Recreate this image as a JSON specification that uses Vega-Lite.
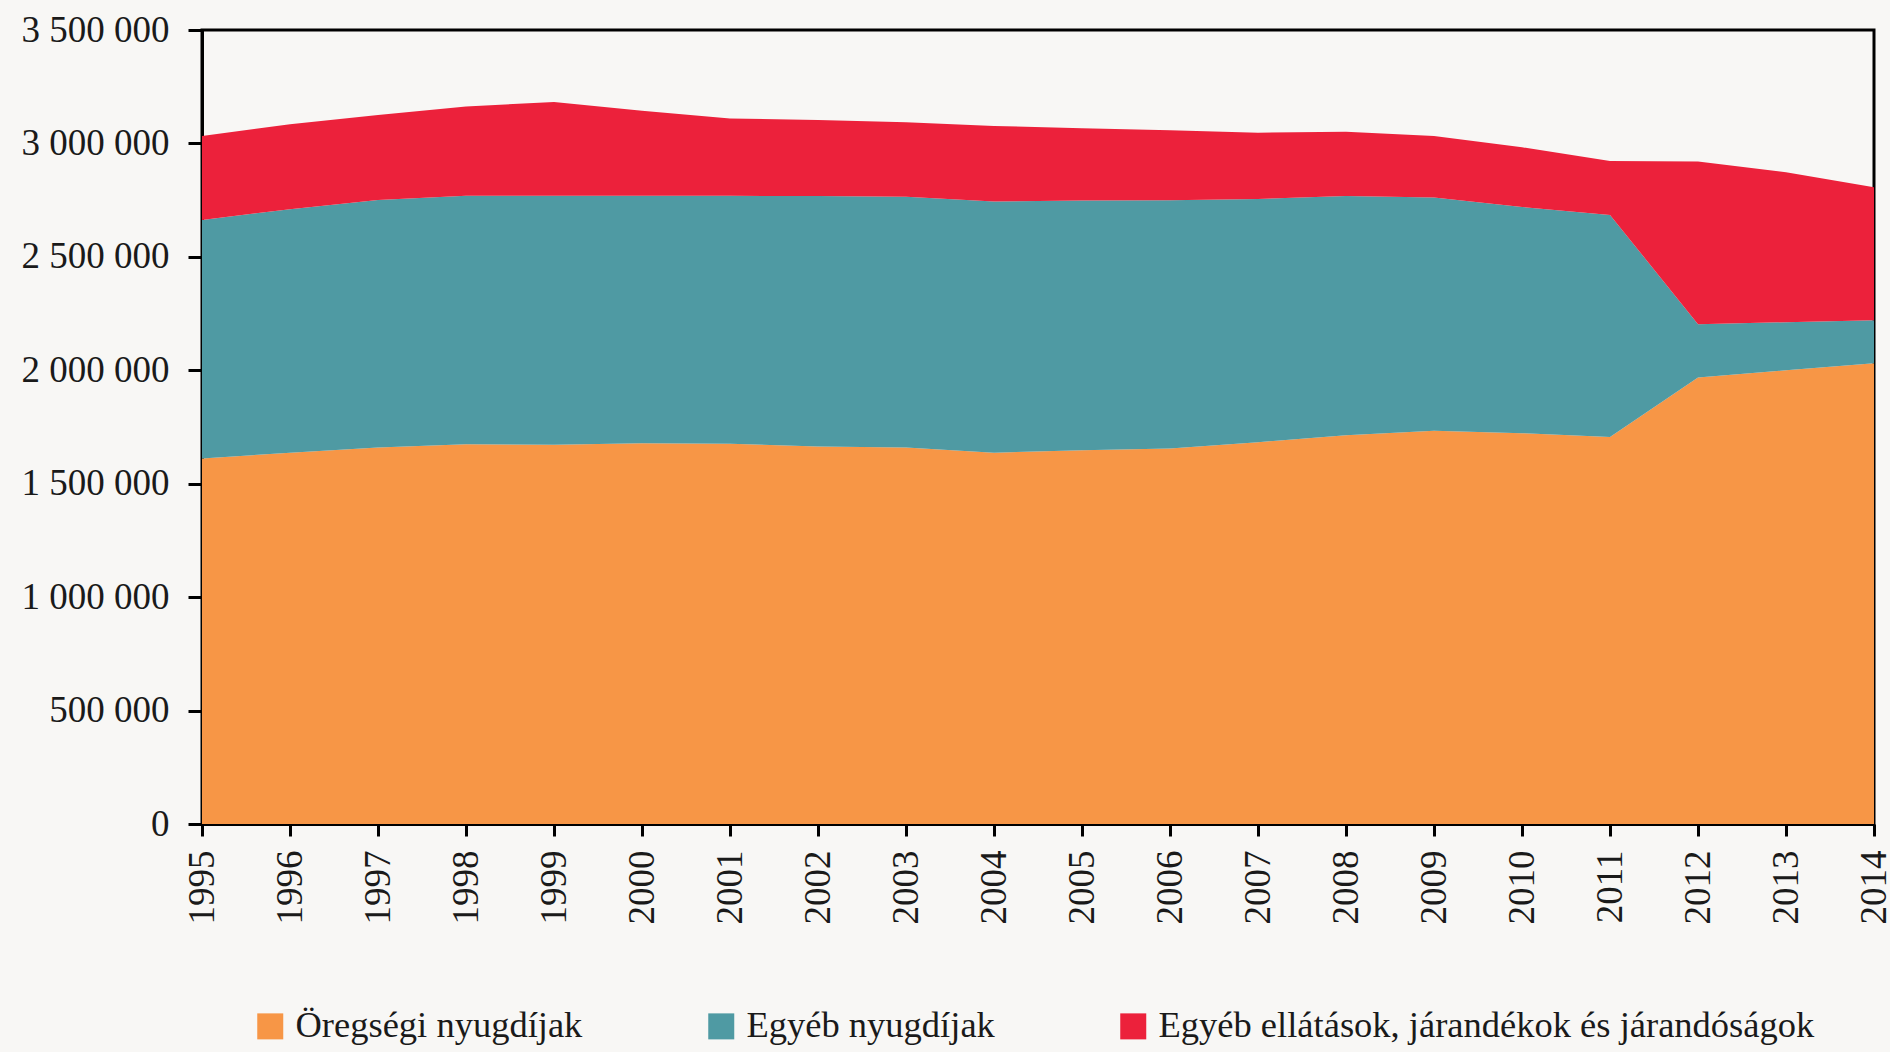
{
  "$schema": "https://vega.github.io/schema/vega-lite/v6.json",
  "width": 1672,
  "height": 794,
  "autosize": {"type": "none"},
  "padding": {"left": 202, "top": 30, "right": 16, "bottom": 228},
  "background": "#f8f7f5",
  "config": {
    "locale": {"number": {"decimal": ",", "thousands": " ", "grouping": [3], "currency": ["", " Ft"]}},
    "view": {"stroke": "#000000", "strokeWidth": 3, "fill": "#f8f7f5"},
    "axis": {
      "labelFont": "Liberation Serif",
      "labelFontSize": 37,
      "labelColor": "#1a1a1a",
      "domainColor": "#000000",
      "domainWidth": 3,
      "tickColor": "#000000",
      "tickWidth": 3,
      "grid": false,
      "title": null,
      "zindex": 1
    },
    "legend": {
      "labelFont": "Liberation Serif",
      "labelFontSize": 36.5,
      "labelColor": "#1a1a1a"
    }
  },
  "data": {
    "values": [
      {"year": 1995, "series": "Öregségi nyugdíjak", "value": 1611000},
      {"year": 1996, "series": "Öregségi nyugdíjak", "value": 1637000},
      {"year": 1997, "series": "Öregségi nyugdíjak", "value": 1660000},
      {"year": 1998, "series": "Öregségi nyugdíjak", "value": 1674000},
      {"year": 1999, "series": "Öregségi nyugdíjak", "value": 1672000},
      {"year": 2000, "series": "Öregségi nyugdíjak", "value": 1678000},
      {"year": 2001, "series": "Öregségi nyugdíjak", "value": 1676000},
      {"year": 2002, "series": "Öregségi nyugdíjak", "value": 1664000},
      {"year": 2003, "series": "Öregségi nyugdíjak", "value": 1660000},
      {"year": 2004, "series": "Öregségi nyugdíjak", "value": 1637000},
      {"year": 2005, "series": "Öregségi nyugdíjak", "value": 1648000},
      {"year": 2006, "series": "Öregségi nyugdíjak", "value": 1655000},
      {"year": 2007, "series": "Öregségi nyugdíjak", "value": 1683000},
      {"year": 2008, "series": "Öregségi nyugdíjak", "value": 1714000},
      {"year": 2009, "series": "Öregségi nyugdíjak", "value": 1733000},
      {"year": 2010, "series": "Öregségi nyugdíjak", "value": 1723000},
      {"year": 2011, "series": "Öregségi nyugdíjak", "value": 1706000},
      {"year": 2012, "series": "Öregségi nyugdíjak", "value": 1968000},
      {"year": 2013, "series": "Öregségi nyugdíjak", "value": 2000000},
      {"year": 2014, "series": "Öregségi nyugdíjak", "value": 2031000},
      {"year": 1995, "series": "Egyéb nyugdíjak", "value": 1052000},
      {"year": 1996, "series": "Egyéb nyugdíjak", "value": 1073000},
      {"year": 1997, "series": "Egyéb nyugdíjak", "value": 1091000},
      {"year": 1998, "series": "Egyéb nyugdíjak", "value": 1095000},
      {"year": 1999, "series": "Egyéb nyugdíjak", "value": 1097000},
      {"year": 2000, "series": "Egyéb nyugdíjak", "value": 1091000},
      {"year": 2001, "series": "Egyéb nyugdíjak", "value": 1093000},
      {"year": 2002, "series": "Egyéb nyugdíjak", "value": 1104000},
      {"year": 2003, "series": "Egyéb nyugdíjak", "value": 1105000},
      {"year": 2004, "series": "Egyéb nyugdíjak", "value": 1107000},
      {"year": 2005, "series": "Egyéb nyugdíjak", "value": 1100000},
      {"year": 2006, "series": "Egyéb nyugdíjak", "value": 1095000},
      {"year": 2007, "series": "Egyéb nyugdíjak", "value": 1072000},
      {"year": 2008, "series": "Egyéb nyugdíjak", "value": 1054000},
      {"year": 2009, "series": "Egyéb nyugdíjak", "value": 1029000},
      {"year": 2010, "series": "Egyéb nyugdíjak", "value": 997000},
      {"year": 2011, "series": "Egyéb nyugdíjak", "value": 979000},
      {"year": 2012, "series": "Egyéb nyugdíjak", "value": 235000},
      {"year": 2013, "series": "Egyéb nyugdíjak", "value": 212000},
      {"year": 2014, "series": "Egyéb nyugdíjak", "value": 190000},
      {"year": 1995, "series": "Egyéb ellátások, járandékok és járandóságok", "value": 370000},
      {"year": 1996, "series": "Egyéb ellátások, járandékok és járandóságok", "value": 375000},
      {"year": 1997, "series": "Egyéb ellátások, járandékok és járandóságok", "value": 374000},
      {"year": 1998, "series": "Egyéb ellátások, járandékok és járandóságok", "value": 394000},
      {"year": 1999, "series": "Egyéb ellátások, járandékok és járandóságok", "value": 414000},
      {"year": 2000, "series": "Egyéb ellátások, járandékok és járandóságok", "value": 375000},
      {"year": 2001, "series": "Egyéb ellátások, járandékok és járandóságok", "value": 341000},
      {"year": 2002, "series": "Egyéb ellátások, járandékok és járandóságok", "value": 335000},
      {"year": 2003, "series": "Egyéb ellátások, járandékok és járandóságok", "value": 328000},
      {"year": 2004, "series": "Egyéb ellátások, járandékok és járandóságok", "value": 333000},
      {"year": 2005, "series": "Egyéb ellátások, járandékok és járandóságok", "value": 319000},
      {"year": 2006, "series": "Egyéb ellátások, járandékok és járandóságok", "value": 308000},
      {"year": 2007, "series": "Egyéb ellátások, járandékok és járandóságok", "value": 292000},
      {"year": 2008, "series": "Egyéb ellátások, járandékok és járandóságok", "value": 284000},
      {"year": 2009, "series": "Egyéb ellátások, járandékok és járandóságok", "value": 271000},
      {"year": 2010, "series": "Egyéb ellátások, járandékok és járandóságok", "value": 263000},
      {"year": 2011, "series": "Egyéb ellátások, járandékok és járandóságok", "value": 238000},
      {"year": 2012, "series": "Egyéb ellátások, járandékok és járandóságok", "value": 717000},
      {"year": 2013, "series": "Egyéb ellátások, járandékok és járandóságok", "value": 661000},
      {"year": 2014, "series": "Egyéb ellátások, járandékok és járandóságok", "value": 586000}
    ]
  },
  "mark": {"type": "area", "interpolate": "linear", "opacity": 1},
  "encoding": {
    "x": {
      "field": "year",
      "type": "quantitative",
      "scale": {"domain": [1995, 2014], "nice": false, "zero": false},
      "axis": {
        "values": [1995, 1996, 1997, 1998, 1999, 2000, 2001, 2002, 2003, 2004, 2005, 2006, 2007, 2008, 2009, 2010, 2011, 2012, 2013, 2014],
        "format": "d",
        "labelAngle": 270,
        "labelAlign": "right",
        "labelBaseline": "middle",
        "tickSize": 12,
        "labelPadding": 14,
        "labelFlush": false,
        "labelOverlap": false
      }
    },
    "y": {
      "field": "value",
      "type": "quantitative",
      "stack": "zero",
      "scale": {"domain": [0, 3500000], "nice": false},
      "axis": {
        "values": [0, 500000, 1000000, 1500000, 2000000, 2500000, 3000000, 3500000],
        "format": ",d",
        "tickSize": 14,
        "labelPadding": 19,
        "labelFlush": false,
        "labelOverlap": false
      }
    },
    "color": {
      "field": "series",
      "type": "nominal",
      "scale": {
        "domain": ["Öregségi nyugdíjak", "Egyéb nyugdíjak", "Egyéb ellátások, járandékok és járandóságok"],
        "range": ["#f79646", "#4f9aa3", "#ec213b"]
      },
      "legend": {
        "title": null,
        "orient": "none",
        "direction": "horizontal",
        "legendX": 50,
        "legendY": 978,
        "padding": 0,
        "symbolType": "square",
        "symbolSize": 676,
        "symbolStrokeWidth": 0,
        "symbolOpacity": 1,
        "labelOffset": 7,
        "columnPadding": 120,
        "labelLimit": 1000
      }
    },
    "order": {"field": "series", "sort": "descending"}
  }
}
